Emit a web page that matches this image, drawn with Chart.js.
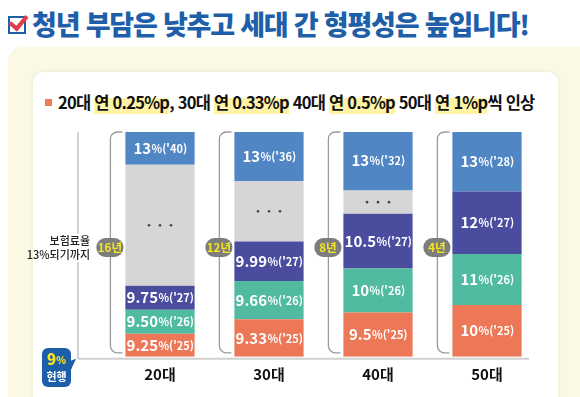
<!DOCTYPE html>
<html lang="ko">
<head>
<meta charset="utf-8">
<script src="https://cdn.jsdelivr.net/npm/chart.js@4.4.1/dist/chart.umd.min.js"></script>
<style>
  html, body { margin: 0; padding: 0; }
  body { width: 580px; height: 397px; position: relative; overflow: hidden; background: #fff;
         font-family: "Noto Sans CJK KR", "Noto Sans", sans-serif; }
  #title { position: absolute; left: 8px; top: 4px; font-size: 27px; font-weight: 900; color: #1f5fa9;
           letter-spacing: -1.2px; white-space: nowrap; }
  #title .chk { display: inline-block; width: 14px; height: 14px; border: 2px solid #1f5fa9; position: relative;
                margin-right: 6px; vertical-align: 1px; }
  #title .chk:after { content: ""; position: absolute; left: 3px; top: -6px; width: 7px; height: 14px;
                      border: solid #e23d4b; border-width: 0 4px 4px 0; transform: rotate(40deg); }
  #panel { position: absolute; left: 8px; top: 47px; width: 600px; height: 400px; background: #fbf8e4;
           border-radius: 14px; }
  #card { position: absolute; left: 33px; top: 72px; width: 525px; height: 360px; background: #fff;
          border-radius: 10px; box-shadow: 0 0 5px rgba(0,0,0,0.08); }
  #sub { position: absolute; left: 45px; top: 90px; font-size: 16.5px; font-weight: 700; color: #111;
         letter-spacing: -0.75px; white-space: nowrap; }
  #sub .sq { display: inline-block; width: 7px; height: 7px; background: #ef7c5c; margin-right: 6px; vertical-align: 3px; }
  #sub .hl { background: linear-gradient(transparent 35%, #fff3a6 35%); }
  canvas { position: absolute; left: 0; top: 0; }
</style>
</head>
<body>
<div id="panel"></div>
<div id="card"></div>
<div id="title"><span class="chk"></span>청년 부담은 낮추고 세대 간 형평성은 높입니다!</div>
<div id="sub"><span class="sq"></span>20대 <span class="hl">연 0.25%p</span>, 30대 <span class="hl">연 0.33%p</span> 40대 <span class="hl">연 0.5%p</span> 50대 <span class="hl">연 1%p</span>씩 인상</div>
<canvas id="canvas" width="580" height="397"></canvas>
<script>
// 연령대
var ages = ['20대', '30대', '40대', '50대'];
// 막대 조각 길이 (그림에서 읽은 값, 아래부터)
var len25 = [24, 39, 46, 54];
var len26 = [25, 40, 46, 53];
var len27 = [25, 41, 57, 65];
var lenGap = [126, 63, 24, 0];
var len13 = [34, 51, 62, 62];
// 보험료율 라벨
var rate25 = ['9.25', '9.33', '9.5', '10'];
var rate26 = ['9.50', '9.66', '10', '11'];
var rate27 = ['9.75', '9.99', '10.5', '12'];
var rate13 = ['13', '13', '13', '13'];
var year13 = ["'40", "'36", "'32", "'28"];
var years = ['16년', '12년', '8년', '4년'];

var FONT = '"Noto Sans CJK KR", "Noto Sans", sans-serif';

function segLabel(ctx, x, y, big, small) {
    ctx.font = '700 15px ' + FONT;
    var w1 = ctx.measureText(big).width;
    ctx.font = '700 11px ' + FONT;
    var w2 = ctx.measureText(small).width;
    var sx = x - (w1 + w2) / 2;
    ctx.fillStyle = '#fff';
    ctx.textAlign = 'left';
    ctx.textBaseline = 'alphabetic';
    ctx.font = '700 15px ' + FONT;
    ctx.fillText(big, sx, y + 5.5);
    ctx.font = '700 11px ' + FONT;
    ctx.fillText(small, sx + w1 + 0.5, y + 4.5);
}

function roundRect(ctx, x, y, w, h, r) {
    ctx.beginPath();
    ctx.moveTo(x + r, y);
    ctx.arcTo(x + w, y, x + w, y + h, r);
    ctx.arcTo(x + w, y + h, x, y + h, r);
    ctx.arcTo(x, y + h, x, y, r);
    ctx.arcTo(x, y, x + w, y, r);
    ctx.closePath();
}

var decor = {
    id: 'decor',
    afterDatasetsDraw: function(chart) {
        var ctx = chart.ctx;
        var area = chart.chartArea;
        ctx.save();

        // 왼쪽 세로선 + 바닥선
        var lx = 78, by = area.bottom + 2;
        ctx.strokeStyle = '#c4c4c4';
        ctx.lineWidth = 1.5;
        ctx.beginPath();
        ctx.moveTo(lx, area.top); ctx.lineTo(lx, 234);
        ctx.moveTo(lx, 262); ctx.lineTo(lx, by);
        ctx.stroke();
        ctx.lineWidth = 2;
        ctx.strokeStyle = '#d0d0d0';
        ctx.beginPath();
        ctx.moveTo(lx, by); ctx.lineTo(529, by);
        ctx.stroke();

        ctx.fillStyle = '#222';
        ctx.font = '500 11px ' + FONT;
        ctx.textAlign = 'right';
        ctx.textBaseline = 'middle';
        ctx.fillText('보험료율', 90, 241);
        ctx.fillText('13%되기까지', 90, 255);

        // 현행 배지
        ctx.fillStyle = '#1d5ea8';
        roundRect(ctx, 42, 348, 29, 39, 6);
        ctx.fill();
        ctx.beginPath();
        ctx.moveTo(70, 361); ctx.lineTo(76, by); ctx.lineTo(70, 372);
        ctx.fill();
        ctx.fillStyle = '#f7e61c';
        ctx.textAlign = 'left';
        ctx.textBaseline = 'alphabetic';
        ctx.font = '800 15px ' + FONT;
        var w9 = ctx.measureText('9').width;
        ctx.font = '800 10px ' + FONT;
        var wp = ctx.measureText('%').width;
        var sx = 56.5 - (w9 + wp) / 2;
        ctx.font = '800 15px ' + FONT;
        ctx.fillText('9', sx, 365);
        ctx.font = '800 10px ' + FONT;
        ctx.fillText('%', sx + w9, 364);
        ctx.fillStyle = '#fff';
        ctx.textAlign = 'center';
        ctx.textBaseline = 'middle';
        ctx.font = '700 11px ' + FONT;
        ctx.fillText('현행', 56.5, 377);

        var bars = chart.getDatasetMeta(0).data;
        bars.forEach(function(bar, i) {
            var left = bar.x - bar.width / 2;
            var bx = left - 15;
            var top = area.top, bot = area.bottom - 4;
            ctx.strokeStyle = '#9a9a9a';
            ctx.lineWidth = 1.3;
            ctx.beginPath();
            ctx.moveTo(left - 3, top);
            ctx.arcTo(bx, top, bx, top + 8, 7);
            ctx.arcTo(bx, bot, left - 3, bot, 7);
            ctx.lineTo(left - 3, bot);
            ctx.stroke();

            ctx.fillStyle = '#7d7d7d';
            roundRect(ctx, bx - 14, 238, 27, 19, 9);
            ctx.fill();
            ctx.fillStyle = '#f4e622';
            ctx.font = '700 11.5px ' + FONT;
            ctx.textAlign = 'center';
            ctx.textBaseline = 'middle';
            ctx.fillText(years[i], bx - 0.5, 247.5);
        });

        // 조각 라벨
        var texts = [
            function(i) { return [rate25[i], "%('25)"]; },
            function(i) { return [rate26[i], "%('26)"]; },
            function(i) { return [rate27[i], "%('27)"]; },
            null,
            function(i) { return [rate13[i], '%(' + year13[i] + ')']; }
        ];
        chart.data.datasets.forEach(function(ds, d) {
            var meta = chart.getDatasetMeta(d);
            meta.data.forEach(function(el, i) {
                if (!ds.data[i]) return;
                var cy = (el.y + el.base) / 2;
                if (texts[d]) {
                    var t = texts[d](i);
                    segLabel(ctx, el.x, cy, t[0], t[1]);
                } else {
                    ctx.fillStyle = '#444';
                    for (var k = -1; k <= 1; k++) {
                        ctx.beginPath();
                        ctx.arc(el.x + k * 11, cy, 1.3, 0, Math.PI * 2);
                        ctx.fill();
                    }
                }
            });
        });
        ctx.restore();
    }
};

var ctx = document.getElementById('canvas').getContext('2d');
var myChart = new Chart(ctx, {
    type: 'bar',
    data: {
        labels: ages,
        datasets: [
            { label: "'25", data: len25, backgroundColor: '#ec7858' },
            { label: "'26", data: len26, backgroundColor: '#50bba1' },
            { label: "'27", data: len27, backgroundColor: '#4a4d9e' },
            { label: '...', data: lenGap, backgroundColor: '#d6d6d6' },
            { label: '13%', data: len13, backgroundColor: '#4f86c3' }
        ]
    },
    options: {
        responsive: false,
        animation: false,
        layout: { padding: { left: 105.5, right: 38.5, top: 132, bottom: 6.2 } },
        plugins: { legend: { display: false }, tooltip: { enabled: false } },
        datasets: { bar: { barPercentage: 0.635, categoryPercentage: 1, borderWidth: 0 } },
        scales: {
            x: {
                stacked: true,
                grid: { display: false, drawTicks: false },
                border: { display: false },
                ticks: { color: '#111', padding: 8, font: { family: FONT, size: 15, weight: '700' } }
            },
            y: { stacked: true, display: false, min: 0, max: 234 }
        }
    },
    plugins: [decor]
});
</script>
</body>
</html>
